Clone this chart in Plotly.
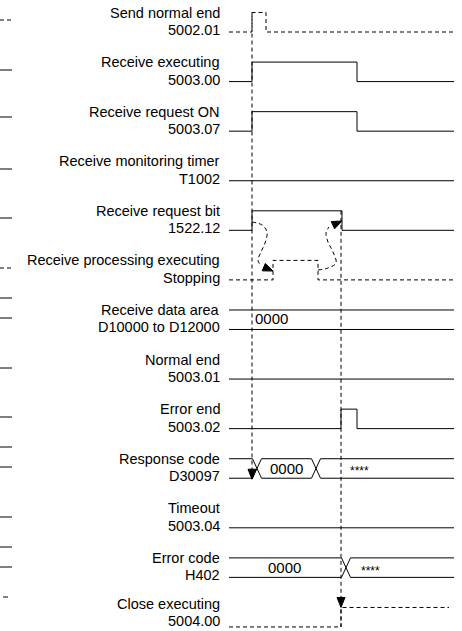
import math
import plotly.graph_objects as go

# ---------------- data ----------------
label_top = ["Send normal end", "Receive executing", "Receive request ON",
             "Receive monitoring timer", "Receive request bit",
             "Receive processing executing", "Receive data area", "Normal end",
             "Error end", "Response code", "Timeout", "Error code", "Close executing"]
label_bottom = ["5002.01", "5003.00", "5003.07", "T1002", "1522.12", "Stopping",
                "D10000 to D12000", "5003.01", "5003.02", "D30097", "5003.04",
                "H402", "5004.00"]

# time events (x units)
t_begin = 229
t_end = 454
t_req = 252        # receive request starts
t_send_off = 266   # send normal end pulse off
t_stop_on = 273
t_stop_off = 318
t_bit_off = 342
t_err = 341
t_exec_off = 357
t_close_end = 449

# bit signals: row -> (times, levels, dashed)
bit_rows = {
    0: ([t_begin, t_req, t_send_off, t_end], [0, 1, 0, 0], True),
    1: ([t_begin, t_req, t_exec_off, t_end], [0, 1, 0, 0], False),
    2: ([t_begin, t_req, t_exec_off, t_end], [0, 1, 0, 0], False),
    3: ([t_begin, t_end], [0, 0], False),
    4: ([t_begin, t_req, t_bit_off, t_end], [0, 1, 0, 0], False),
    5: ([t_begin, t_stop_on, t_stop_off, t_end], [0, 1, 0, 0], True),
    7: ([t_begin, t_end], [0, 0], False),
    8: ([t_begin, t_err, t_exec_off, t_end], [0, 1, 0, 0], False),
    10: ([t_begin, t_end], [0, 0], False),
    12: ([t_begin, t_err, t_close_end], [0, 1, 1], True),
}

# bus signals: row -> (transition centres, segment values)
bus_rows = {
    6: ([], ["0000"]),
    9: ([257, 316], ["", "0000", "****"]),
    11: ([346], ["0000", "****"]),
}
bus_text_x = {6: [271], 9: [None, 286, 359], 11: [284, 370]}

# curved handshake arrows (x, y in the diagram's units)
curve1_x = [252, 262, 267, 265, 261, 258, 261]
curve1_y = [222, 225, 232, 243, 252, 260, 266]
curve1_tip = (273, 271)
curve2_x = [318, 328, 336, 333, 328, 326, 329]
curve2_y = [270, 268, 263, 252, 242, 233, 227]
curve2_tip = (342, 221)

# cropped fragments of a previous column at the left edge (y px, dashed)
frag_y = [20, 70, 117, 169, 218, 268, 298, 318, 368, 417, 447, 467, 517, 547, 567, 597]
frag_dash = [True, False, False, False, False, True, False, False, False, False,
             False, False, False, False, False, True]

# ---------------- geometry helpers ----------------
ROW0 = 32.0
PITCH = 49.58
AMP = 19.5
HW = 4.5  # half width of bus crossing
DASH = "4px,3px"
FONT = "Liberation Sans, Arial, sans-serif"
FIG_H = 631


def low(i):
    return ROW0 + PITCH * i


fig = go.Figure()


def line(xs, ys, dashed=False, shape="linear", width=1):
    fig.add_trace(go.Scatter(x=xs, y=ys, mode="lines", hoverinfo="skip",
                             line=dict(color="black", width=width,
                                       dash=DASH if dashed else "solid",
                                       shape=shape)))


def arrowhead(tip, frm, length=10, half=4):
    dx, dy = tip[0] - frm[0], tip[1] - frm[1]
    n = math.hypot(dx, dy)
    ux, uy = dx / n, dy / n
    bx, by = tip[0] - ux * length, tip[1] - uy * length
    px, py = -uy * half, ux * half
    xs = [tip[0], bx + px, bx - px, tip[0]]
    ys = [tip[1], by + py, by - py, tip[1]]
    fig.add_trace(go.Scatter(x=xs, y=ys, mode="lines", fill="toself",
                             fillcolor="black", hoverinfo="skip",
                             line=dict(color="black", width=1)))


# bit signals
for r, (ts, lv, dashed) in bit_rows.items():
    line(ts, [low(r) - AMP * v for v in lv], dashed, shape="hv")

# bus signals
for r, (cs, vals) in bus_rows.items():
    top, bot = low(r) - AMP, low(r)
    pa = [(t_begin, top)]
    pb = [(t_begin, bot)]
    state = 0
    for c in cs:
        ya, yb = (top, bot) if state == 0 else (bot, top)
        pa += [(c - HW, ya), (c + HW, yb)]
        pb += [(c - HW, yb), (c + HW, ya)]
        state ^= 1
    ya, yb = (top, bot) if state == 0 else (bot, top)
    pa.append((t_end, ya))
    pb.append((t_end, yb))
    for p in (pa, pb):
        line([q[0] for q in p], [q[1] for q in p])
    for v, tx in zip(vals, bus_text_x[r]):
        if not v:
            continue
        star = v.startswith("*")
        ty = (top + bot) / 2 + (3 if star else 0)
        if r == 6:
            ty = top + 9
        fig.add_annotation(x=tx, y=ty, text=v, showarrow=False,
                           xanchor="center", yanchor="middle",
                           font=dict(family=FONT, size=12 if star else 15, color="black"))

# vertical dashed reference lines with down arrows
line([t_req, t_req], [low(0) - AMP, low(9) - 8], dashed=True)
line([t_err, t_err], [low(4) - AMP, low(12)], dashed=True)
arrowhead((t_req, low(9) + 1), (t_req, low(9) - 20))
arrowhead((t_err, low(12) - AMP), (t_err, low(12) - AMP - 20))

# curved dashed arrows (request bit -> stopping -> request bit)
line(curve1_x, curve1_y, dashed=True, shape="spline")
line(curve2_x, curve2_y, dashed=True, shape="spline")
arrowhead(curve1_tip, (curve1_x[-1], curve1_y[-1]))
arrowhead(curve2_tip, (curve2_x[-1], curve2_y[-1]))

# left edge fragments
for y, d in zip(frag_y, frag_dash):
    if d and y > 590:
        line([3, 8], [y, y])
    else:
        line([0, 12], [y, y], dashed=d)

# labels (keep the last row's text box inside the figure)
for i, (a, b) in enumerate(zip(label_top, label_bottom)):
    yb = low(i) - 2
    shift = max(0.0, yb - (FIG_H - 10))
    for txt, y in ((a, low(i) - AMP - shift), (b, yb - shift)):
        fig.add_annotation(x=222, y=y, text=txt, showarrow=False,
                           xanchor="right", yanchor="middle",
                           font=dict(family=FONT, size=14.5, color="black"))

fig.update_layout(width=462, height=FIG_H, margin=dict(l=0, r=0, t=0, b=0),
                  paper_bgcolor="white", plot_bgcolor="white", showlegend=False,
                  xaxis=dict(range=[0, 462], visible=False, fixedrange=True),
                  yaxis=dict(range=[FIG_H, 0], visible=False, fixedrange=True))

fig.write_html("out.html", config={"displayModeBar": False},
               post_script="document.body.style.margin='0';document.body.style.padding='0';"
                           "document.body.style.overflow='hidden';")
